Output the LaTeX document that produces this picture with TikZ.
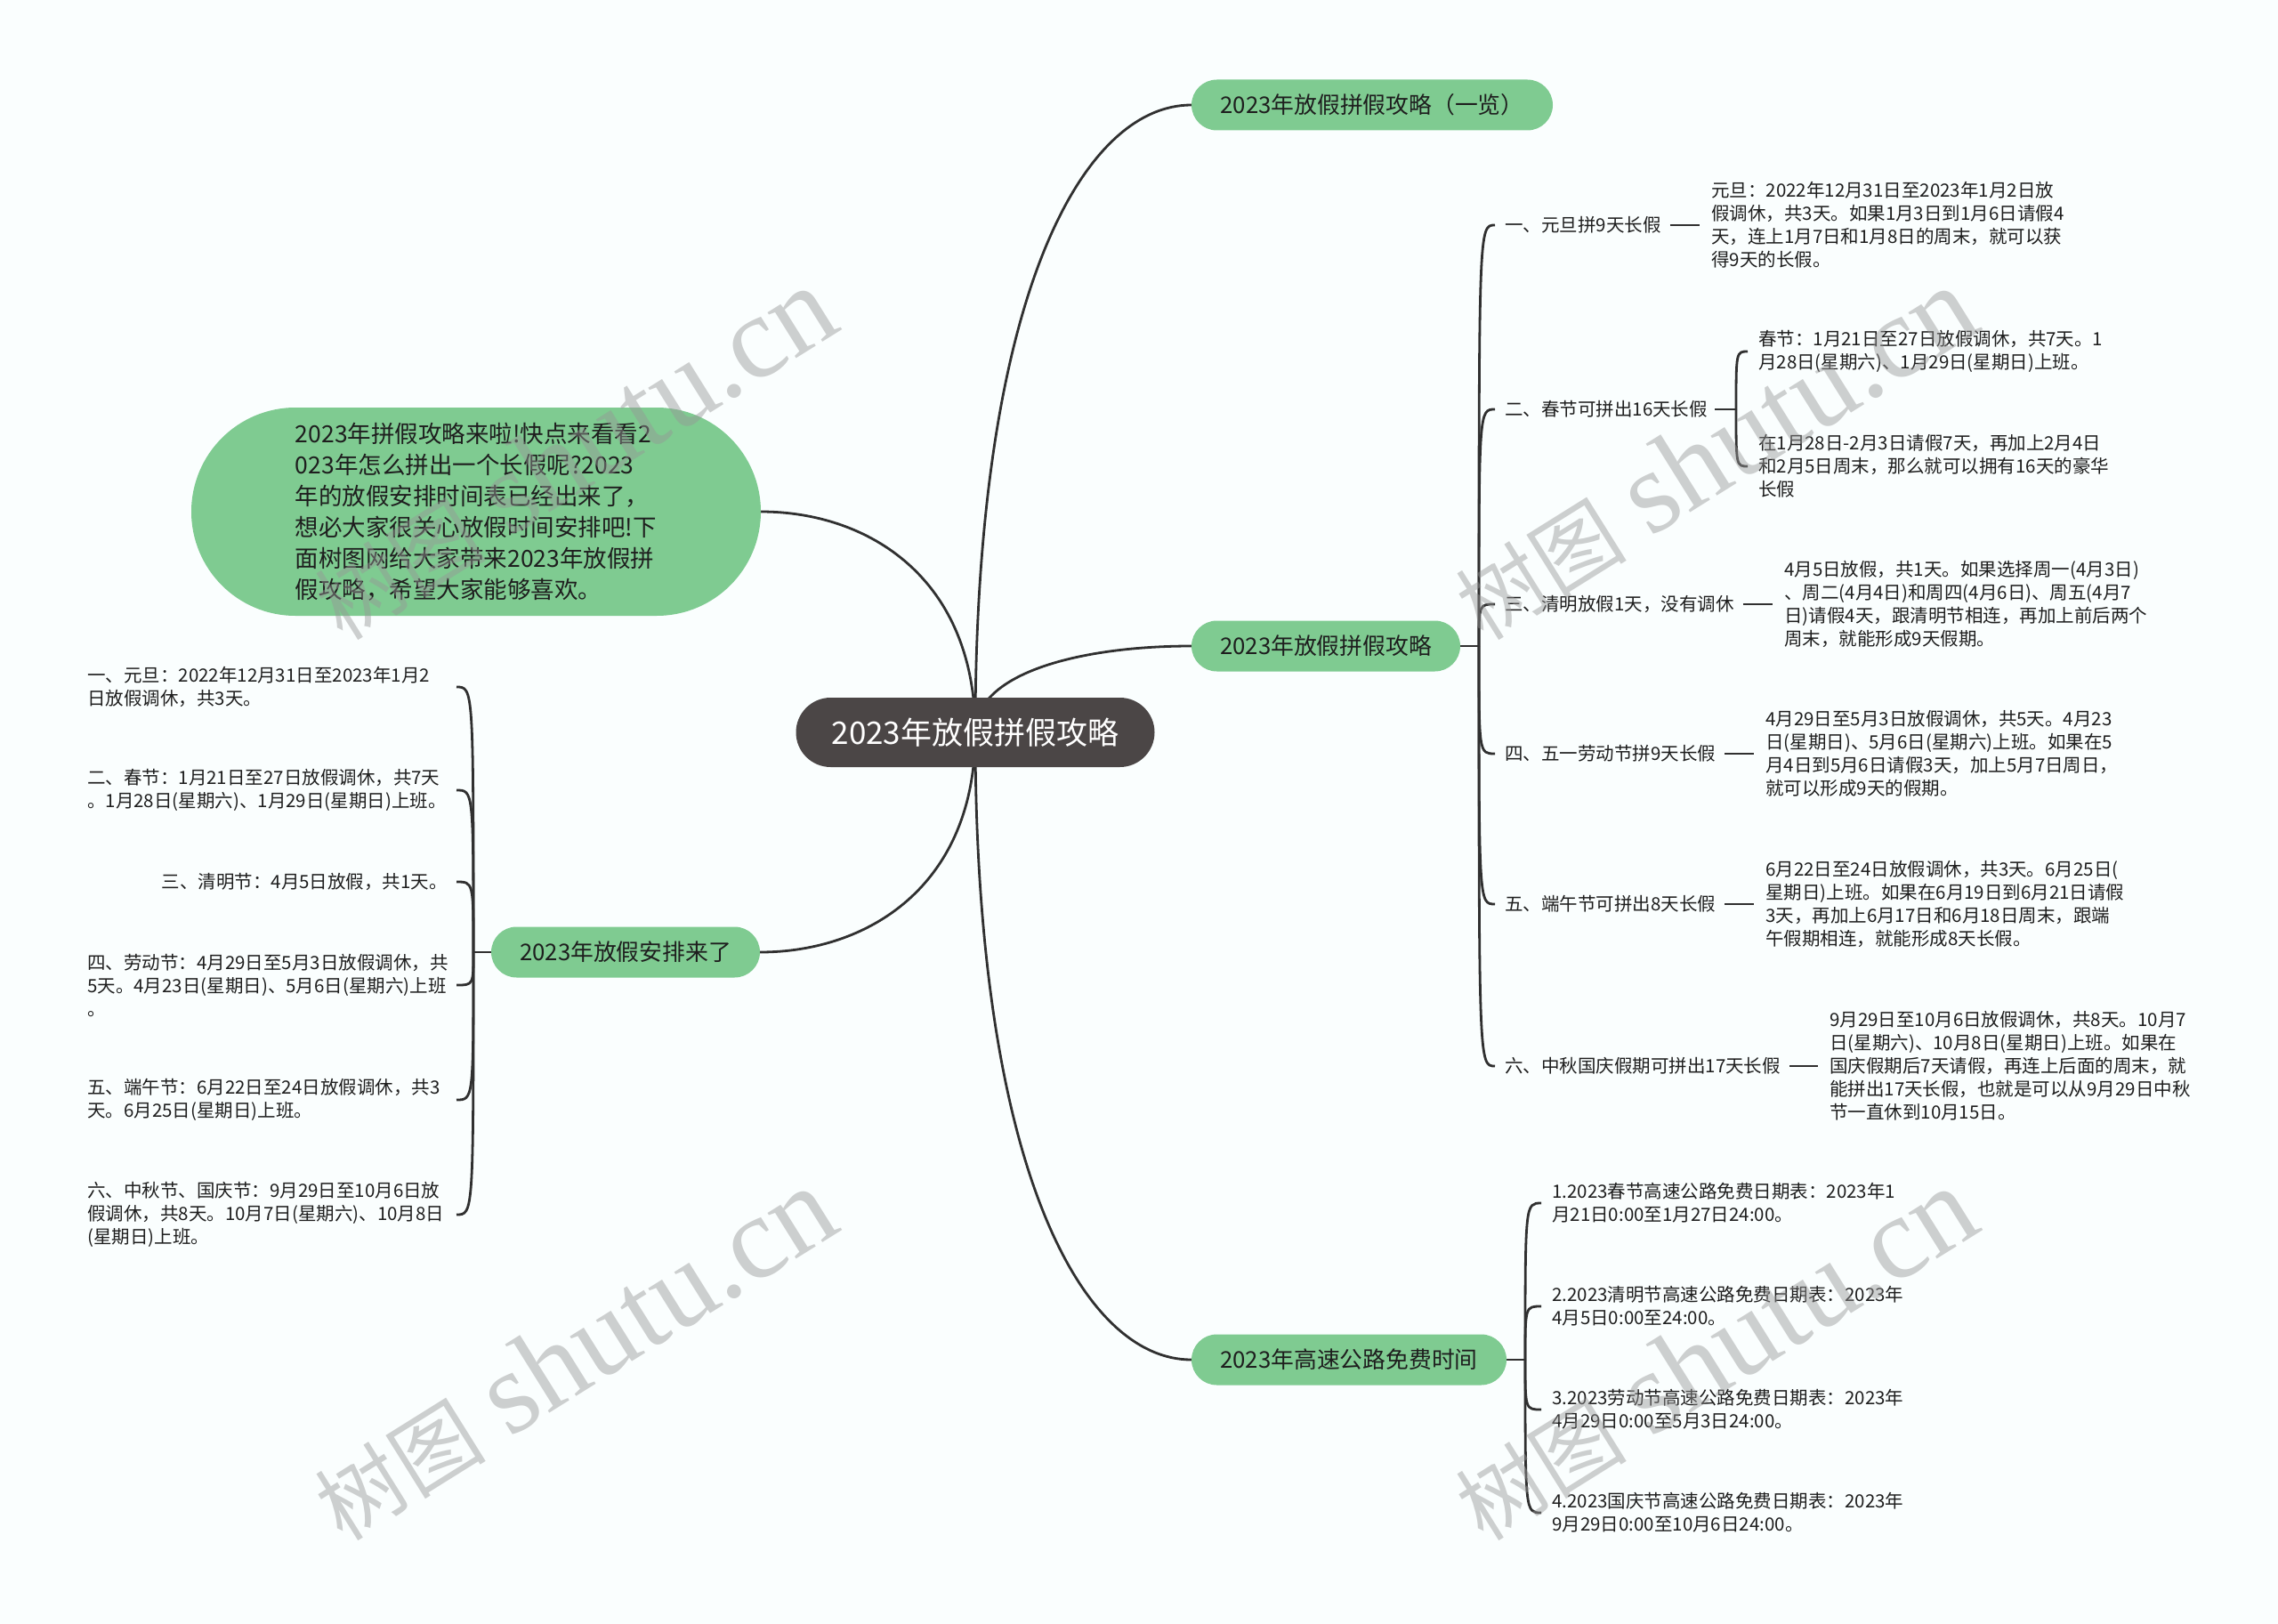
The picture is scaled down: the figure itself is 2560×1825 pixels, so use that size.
\documentclass[tikz,border=0pt]{standalone}
\usepackage{fontspec}
\setmainfont{Noto Sans CJK SC}
\newfontfamily\wmlatin{Liberation Serif}
\usetikzlibrary{calc,backgrounds}
\definecolor{bgc}{RGB}{250,254,254}
\definecolor{gnode}{RGB}{127,203,145}
\definecolor{cnode}{RGB}{75,70,70}
\definecolor{linec}{RGB}{48,48,48}
\definecolor{txt}{RGB}{30,30,30}
\definecolor{wmc}{RGB}{150,150,150}
\tikzset{
 conn/.style={draw=linec, line width=2.8pt},
 central/.style={fill=cnode, text=white, rounded corners=39pt, minimum height=78pt, inner sep=0pt, font=\fontsize{35}{42}\selectfont},
 branch/.style={fill=gnode, text=txt, rounded corners=28.5pt, minimum height=57pt, inner sep=0pt, font=\fontsize{25.8}{30}\selectfont},
 para/.style={fill=gnode, text=txt, rounded corners=117pt, minimum height=234pt, minimum width=640pt, inner sep=0pt, align=left, font=\fontsize{26.5}{35}\selectfont},
 small/.style={text=txt, inner sep=0pt, align=left, font=\fontsize{20.5}{26}\selectfont},
 wm/.style={text=wmc, text opacity=0.45, rotate=32, inner sep=0pt},
}
\begin{document}
\begin{tikzpicture}[x=1pt,y=-1pt]
\useasboundingbox (0,0) rectangle (2560,1825);
% main nodes
\node[central, minimum width=403pt] (C) at (1096,823) {2023年放假拼假攻略};
\node[branch, minimum width=406pt] (B1) at (1542,118) {2023年放假拼假攻略（一览）};
\node[branch, minimum width=302pt] (B2) at (1490,726) {2023年放假拼假攻略};
\node[branch, minimum width=354pt] (B3) at (1516,1528) {2023年高速公路免费时间};
\node[branch, minimum width=302pt] (B4) at (703,1070) {2023年放假安排来了};
\node[para] (P) at (535,575) {2023年拼假攻略来啦!快点来看看2\\023年怎么拼出一个长假呢?2023\\年的放假安排时间表已经出来了，\\想必大家很关心放假时间安排吧!下\\面树图网给大家带来2023年放假拼\\假攻略，希望大家能够喜欢。};
% right items
\node[small, anchor=west] (r1) at (1691,253) {一、元旦拼9天长假};
\node[small, anchor=west] (r2) at (1691,460) {二、春节可拼出16天长假};
\node[small, anchor=west] (r3) at (1691,679) {三、清明放假1天，没有调休};
\node[small, anchor=west] (r4) at (1691,847) {四、五一劳动节拼9天长假};
\node[small, anchor=west] (r5) at (1691,1016) {五、端午节可拼出8天长假};
\node[small, anchor=west] (r6) at (1691,1198) {六、中秋国庆假期可拼出17天长假};
% right details
\node[small, anchor=west] (d1) at (1923,253) {元旦：2022年12月31日至2023年1月2日放\\假调休，共3天。如果1月3日到1月6日请假4\\天，连上1月7日和1月8日的周末，就可以获\\得9天的长假。};
\node[small, anchor=west] (d2a) at (1976,395) {春节：1月21日至27日放假调休，共7天。1\\月28日(星期六)、1月29日(星期日)上班。};
\node[small, anchor=west] (d2b) at (1976,524) {在1月28日-2月3日请假7天，再加上2月4日\\和2月5日周末，那么就可以拥有16天的豪华\\长假};
\node[small, anchor=west] (d3) at (2005,679) {4月5日放假，共1天。如果选择周一(4月3日)\\、周二(4月4日)和周四(4月6日)、周五(4月7\\日)请假4天，跟清明节相连，再加上前后两个\\周末，就能形成9天假期。};
\node[small, anchor=west] (d4) at (1984,847) {4月29日至5月3日放假调休，共5天。4月23\\日(星期日)、5月6日(星期六)上班。如果在5\\月4日到5月6日请假3天，加上5月7日周日，\\就可以形成9天的假期。};
\node[small, anchor=west] (d5) at (1984,1016) {6月22日至24日放假调休，共3天。6月25日(\\星期日)上班。如果在6月19日到6月21日请假\\3天，再加上6月17日和6月18日周末，跟端\\午假期相连，就能形成8天长假。};
\node[small, anchor=west] (d6) at (2056,1198) {9月29日至10月6日放假调休，共8天。10月7\\日(星期六)、10月8日(星期日)上班。如果在\\国庆假期后7天请假，再连上后面的周末，就\\能拼出17天长假，也就是可以从9月29日中秋\\节一直休到10月15日。};
% highway items
\node[small, anchor=west] (h1) at (1744,1352) {1.2023春节高速公路免费日期表：2023年1\\月21日0:00至1月27日24:00。};
\node[small, anchor=west] (h2) at (1744,1468) {2.2023清明节高速公路免费日期表：2023年\\4月5日0:00至24:00。};
\node[small, anchor=west] (h3) at (1744,1584) {3.2023劳动节高速公路免费日期表：2023年\\4月29日0:00至5月3日24:00。};
\node[small, anchor=west] (h4) at (1744,1700) {4.2023国庆节高速公路免费日期表：2023年\\9月29日0:00至10月6日24:00。};
% left items
\node[small, anchor=west] (l1) at (98,772) {一、元旦：2022年12月31日至2023年1月2\\日放假调休，共3天。};
\node[small, anchor=west] (l2) at (98,888) {二、春节：1月21日至27日放假调休，共7天\\。1月28日(星期六)、1月29日(星期日)上班。};
\node[small, anchor=east] (l3) at (503,991) {三、清明节：4月5日放假，共1天。};
\node[small, anchor=west] (l4) at (98,1107) {四、劳动节：4月29日至5月3日放假调休，共\\5天。4月23日(星期日)、5月6日(星期六)上班\\。};
\node[small, anchor=west] (l5) at (98,1236) {五、端午节：6月22日至24日放假调休，共3\\天。6月25日(星期日)上班。};
\node[small, anchor=west] (l6) at (98,1365) {六、中秋节、国庆节：9月29日至10月6日放\\假调休，共8天。10月7日(星期六)、10月8日\\(星期日)上班。};
% junctions
\coordinate (jR) at (1662,726);
\coordinate (jS) at (1951,460);
\coordinate (jL) at (532,1070);
\coordinate (tipL) at (513,1070);
\coordinate (jH) at (1714,1528);
\begin{scope}[on background layer]
\fill[bgc] (0,0) rectangle (2560,1825);
% main curves
\draw[conn] (C.center) .. controls ($(C.center)!0.7!(C.center|-B1.west)$) and ($(B1.west)!0.5!(C.center|-B1.west)$) .. (B1.west);
\draw[conn] (C.center) .. controls ($(C.center)!0.7!(C.center|-B2.west)$) and ($(B2.west)!0.5!(C.center|-B2.west)$) .. (B2.west);
\draw[conn] (C.center) .. controls ($(C.center)!0.7!(C.center|-B3.west)$) and ($(B3.west)!0.5!(C.center|-B3.west)$) .. (B3.west);
\draw[conn] (C.center) .. controls ($(C.center)!0.7!(C.center|-P.east)$) and ($(P.east)!0.5!(C.center|-P.east)$) .. (P.east);
\draw[conn] (C.center) .. controls ($(C.center)!0.7!(C.center|-B4.east)$) and ($(B4.east)!0.5!(C.center|-B4.east)$) .. (B4.east);
% right bracket
\draw[conn] (B2.east) -- (jR);
\foreach \n in {r1,r2,r3,r4,r5,r6}
  \draw[conn] (jR) .. controls (jR |- \n.west) .. ($(\n.west)+(-11,0)$);
\foreach \a/\b in {r1/d1,r3/d3,r4/d4,r5/d5,r6/d6}
  \draw[conn] ($(\a.east)+(10,0)$) -- ($(\b.west)+(-13,0)$);
\draw[conn] ($(r2.east)+(8,0)$) -- (jS);
\foreach \n in {d2a,d2b}
  \draw[conn] (jS) .. controls (jS |- \n.west) .. ($(\n.west)+(-12,0)$);
% highway bracket
\draw[conn] (B3.east) -- (jH);
\foreach \n in {h1,h2,h3,h4}
  \draw[conn] (jH) .. controls (jH |- \n.west) .. ($(\n.west)+(-12,0)$);
% left bracket
\draw[conn] (B4.west) -- (jL);
\foreach \n in {l1,l2,l3,l4,l5,l6}
  \draw[conn] (jL) .. controls (jL |- \n.east) .. (\n.east -| tipL);
\end{scope}
% watermarks
\foreach \wx/\wy in {645/510,645/1522,1927/510,1927/1522}
  \node[wm] at (\wx,\wy) {{\fontsize{96}{96}\selectfont 树图}\hspace{28pt}{\wmlatin\fontsize{132}{132}\selectfont shutu.cn}};
\end{tikzpicture}
\end{document}
